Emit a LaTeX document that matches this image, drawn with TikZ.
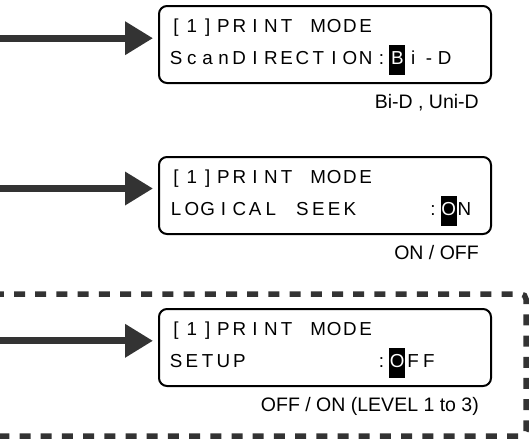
\documentclass[tikz,border=0pt]{standalone}
\usepackage{fontspec}
\setmainfont{Liberation Sans}
\usetikzlibrary{arrows.meta}
\definecolor{arrowgray}{HTML}{333333}
\newlength\lcdp
\setlength\lcdp{15.8pt}
\makeatletter
\newcommand\lcdline[1]{\@tfor\lcd@c:=#1\do{\makebox[\lcdp][c]{\lcd@c}}}
\makeatother
\newcommand\hlch[1]{\makebox[0pt][l]{\rule[-11pt]{\lcdp}{30pt}}\makebox[\lcdp][c]{\color{white}#1}}
\tikzset{
  lcdbox/.style={draw=black, line width=2pt, rounded corners=8pt, minimum width=332pt, minimum height=77pt, inner sep=0pt},
  lcdtext/.style={anchor=base west, inner sep=0pt, font=\fontsize{18.8}{20}\selectfont},
  optlabel/.style={anchor=base east, inner sep=0pt, font=\fontsize{19.5}{21}\selectfont},
  bigarrow/.style={draw=arrowgray, line width=6.7pt, -{Triangle[length=28pt,width=32pt]}, shorten >=5pt},
  dashframe/.style={draw=arrowgray, line width=5.5pt, dash pattern=on 11pt off 10.2pt, rounded corners=5pt}
}
\begin{document}
\begin{tikzpicture}[x=1pt,y=-1pt]
\useasboundingbox (0,0) rectangle (529,439);
% dashed frame
\coordinate (f1) at (-7.2,294);
\coordinate (f2) at (526,294);
\coordinate (f3) at (526,436);
\coordinate (f4) at (-7.2,436);
\draw[dashframe] (f1) -- (f2) -- (f3) -- (f4);
% boxes
\node[lcdbox] (b1) at (325,44.5) {};
\node[lcdbox] (b2) at (325,195.5) {};
\node[lcdbox] (b3) at (325,347.5) {};
% texts box 1
\node[lcdtext] (t11) at (168,32.5) {\lcdline{[1]PRINT~MODE}};
\node[lcdtext] (t12) at (168,64) {\lcdline{ScanDIRECTION:{\hlch{B}}i-D}};
\node[optlabel] (l1) at (479,108) {Bi-D , Uni-D};
% texts box 2
\node[lcdtext] (t21) at (168,183.5) {\lcdline{[1]PRINT~MODE}};
\node[lcdtext] (t22) at (168,215) {\lcdline{LOGICAL~SEEK~~~~}\kern4pt\lcdline{:{\hlch{O}}N}};
\node[optlabel] (l2) at (479,259) {ON / OFF};
% texts box 3
\node[lcdtext] (t31) at (168,335.5) {\lcdline{[1]PRINT~MODE}};
\node[lcdtext] (t32) at (168,367) {\lcdline{SETUP~~~~~~~~:{\hlch{O}}FF}};
\node[optlabel] (l3) at (479,411) {OFF / ON (LEVEL 1 to 3)};
% arrows
\coordinate (a1) at (-2,38.2);
\coordinate (a2) at (-2,188.5);
\coordinate (a3) at (-2,340.8);
\draw[bigarrow] (a1) -- (a1 -| b1.west);
\draw[bigarrow] (a2) -- (a2 -| b2.west);
\draw[bigarrow] (a3) -- (a3 -| b3.west);
\end{tikzpicture}
\end{document}
